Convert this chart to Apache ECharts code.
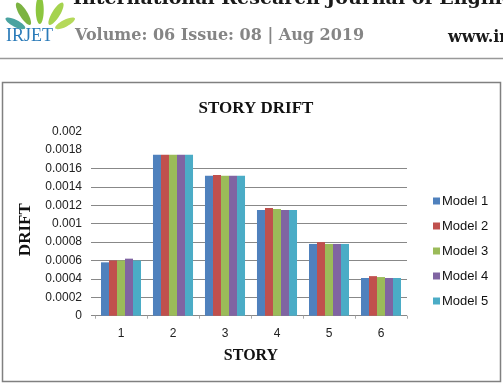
<!DOCTYPE html>
<html>
<head>
<meta charset="utf-8">
<style>
  html, body { margin: 0; padding: 0; background: #fff; }
  #chart { width: 503px; height: 386px; }
</style>
<script src="https://cdn.jsdelivr.net/npm/echarts@6/dist/echarts.min.js"></script>
</head>
<body>
<div id="chart"></div>
<script>
// story numbers on the x axis
var stories = ["1", "2", "3", "4", "5", "6"];
var seriesNames = ["Model 1", "Model 2", "Model 3", "Model 4", "Model 5"];
// drift values
var model1 = [0.00058, 0.00175, 0.00152, 0.00115, 0.00078, 0.00041];
var model2 = [0.00060, 0.00175, 0.00153, 0.00117, 0.00080, 0.00043];
var model3 = [0.00060, 0.00175, 0.00152, 0.00116, 0.00078, 0.00042];
var model4 = [0.00062, 0.00175, 0.00152, 0.00115, 0.00078, 0.00041];
var model5 = [0.00060, 0.00175, 0.00152, 0.00115, 0.00078, 0.00041];
var yTicks = ["0", "0.0002", "0.0004", "0.0006", "0.0008", "0.001",
  "0.0012", "0.0014", "0.0016", "0.0018", "0.002"];

var colors = ["#4F81BD", "#C0504D", "#9BBB59", "#8064A2", "#4BACC6"];
var values = [model1, model2, model3, model4, model5];

// top two gridlines / ticks are not drawn in the original
var tickedValues = yTicks.slice(0, 9).map(Number);

var series = seriesNames.map(function(name, i) {
  return {
    name: name,
    type: "bar",
    data: values[i],
    barGap: "0%",
    barCategoryGap: "23%",
    itemStyle: { color: colors[i] }
  };
});

var chart = echarts.init(document.getElementById("chart"));
chart.setOption({
  animation: false,
  textStyle: { fontFamily: "Liberation Sans" },
  color: colors,
  title: {
    text: "STORY DRIFT",
    left: 251,
    textAlign: "center",
    top: 95,
    textStyle: {
      fontFamily: "Liberation Serif",
      fontWeight: "bold",
      fontSize: 17,
      color: "#111"
    }
  },
  legend: {
    orient: "vertical",
    left: 428,
    top: 189.5,
    itemWidth: 7,
    itemHeight: 7,
    itemGap: 12,
    icon: "rect",
    data: seriesNames,
    textStyle: { fontSize: 13, color: "#111", padding: [0, 0, 0, -3] }
  },
  grid: {
    left: 95,
    right: 96,
    top: 131.7,
    height: 184,
    containLabel: false
  },
  xAxis: {
    type: "category",
    data: stories,
    name: "STORY",
    nameLocation: "middle",
    nameGap: 32,
    nameTextStyle: {
      fontFamily: "Liberation Serif",
      fontWeight: "bold",
      fontSize: 16,
      color: "#111"
    },
    axisLine: { show: false },
    axisTick: { show: true, length: 3, lineStyle: { color: "#aaa" } },
    axisLabel: { fontSize: 12, color: "#222", margin: 12 }
  },
  yAxis: {
    type: "value",
    min: 0,
    max: 0.002,
    interval: 0.0002,
    name: "DRIFT",
    nameLocation: "middle",
    nameGap: 59,
    nameRotate: 90,
    nameTextStyle: {
      fontFamily: "Liberation Serif",
      fontWeight: "bold",
      fontSize: 17,
      color: "#111",
      padding: [0, 12, 0, 0]
    },
    axisLine: { show: false },
    axisTick: {
      show: true,
      length: 4,
      customValues: tickedValues,
      lineStyle: { color: "#888" }
    },
    axisLabel: {
      fontSize: 12,
      color: "#222",
      margin: 13,
      formatter: function(v, idx) { return yTicks[idx]; }
    },
    splitLine: {
      lineStyle: {
        color: ["#888", "#888", "#888", "#888", "#888", "#888",
          "#888", "#888", "#888", "rgba(0,0,0,0)", "rgba(0,0,0,0)"]
      }
    }
  },
  graphic: [
    // chart frame
    {
      type: "rect",
      shape: { x: 2.5, y: 82.5, width: 498, height: 299 },
      style: { fill: "none", stroke: "#808080", lineWidth: 1.5 },
      z: -1
    },
    // page header
    {
      type: "line",
      shape: { x1: 0, y1: 58.5, x2: 503, y2: 58.5 },
      style: { stroke: "#999", lineWidth: 1.5 }
    },
    {
      type: "text",
      left: 73,
      top: -10,
      style: {
        text: "International Research Journal of Engineering",
        font: "bold 19px 'DejaVu Serif'",
        fill: "#1a1a1a"
      }
    },
    {
      type: "text",
      left: 75,
      top: 28,
      style: {
        text: "Volume: 06 Issue: 08 | Aug 2019",
        font: "bold 16px 'DejaVu Serif'",
        fill: "#858585"
      }
    },
    {
      type: "text",
      left: 448,
      top: 30,
      style: {
        text: "www.irjet.net",
        font: "bold 16px 'DejaVu Serif'",
        fill: "#1a1a1a"
      }
    },
    {
      type: "text",
      left: 6,
      top: 27,
      style: {
        text: "IRJET",
        font: "18px 'Liberation Serif'",
        fill: "#2b7bb9"
      }
    },
    // logo leaves
    {
      type: "group",
      left: 4,
      top: -4,
      children: [
        { type: "ellipse", shape: { cx: 28, cy: 10, rx: 4, ry: 14 }, style: { fill: "#8cc63f" } },
        { type: "ellipse", shape: { cx: 38, cy: 12, rx: 4, ry: 13 }, rotation: -0.55, originX: 38, originY: 24, style: { fill: "#a5d34f" } },
        { type: "ellipse", shape: { cx: 18, cy: 12, rx: 4, ry: 13 }, rotation: 0.55, originX: 18, originY: 24, style: { fill: "#7cb342" } },
        { type: "ellipse", shape: { cx: 48, cy: 20, rx: 3.5, ry: 11 }, rotation: -1.1, originX: 48, originY: 26, style: { fill: "#b5d95a" } },
        { type: "ellipse", shape: { cx: 9, cy: 20, rx: 3.5, ry: 11 }, rotation: 1.1, originX: 9, originY: 26, style: { fill: "#4aa3a0" } }
      ]
    }
  ],
  series: series
});
</script>
</body>
</html>
